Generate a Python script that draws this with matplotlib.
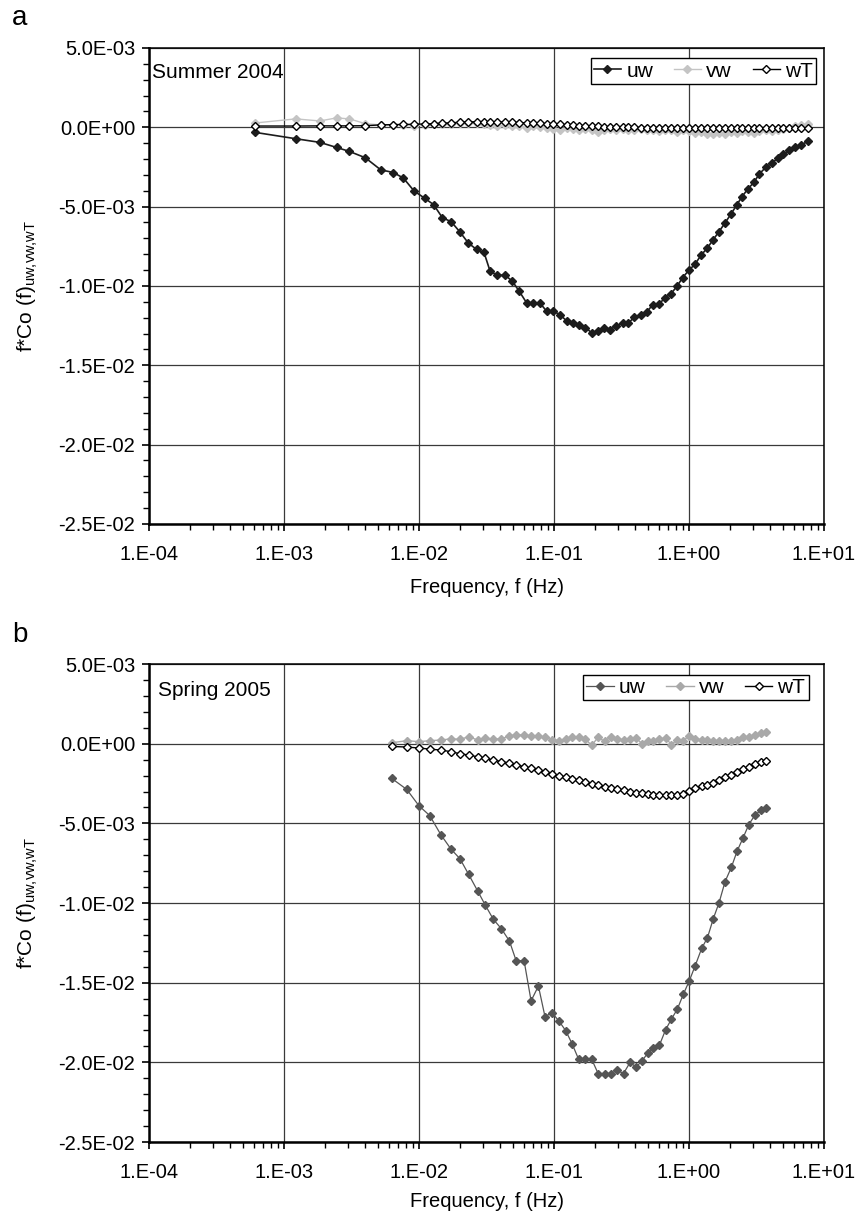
""" Cospectra f*Co(f) of uw, vw and wT for two campaigns
    (a: Summer 2004, b: Spring 2005).
"""

###########
# Imports #
###########
import numpy as np

import matplotlib
matplotlib.use('Agg')
import matplotlib.pyplot as plt
from matplotlib import rcParams
from matplotlib.ticker import FuncFormatter, LogLocator, NullFormatter, MultipleLocator

rcParams['font.family'] = ['Liberation Sans', 'DejaVu Sans']
rcParams['mathtext.default'] = 'regular'

########
# Data #
########
# Panel a (Summer 2004): frequency in Hz, cospectra in units of 1E-03
freq_a = [6.10e-4, 1.22e-3, 1.84e-3, 2.45e-3, 3.05e-3, 4.00e-3, 5.20e-3, 6.45e-3, 7.66e-3, 9.18e-3,
          1.10e-2, 1.28e-2, 1.49e-2, 1.73e-2, 2.01e-2, 2.32e-2, 2.67e-2, 3.03e-2, 3.36e-2, 3.80e-2,
          4.34e-2, 4.91e-2, 5.53e-2, 6.28e-2, 7.03e-2, 7.87e-2, 8.83e-2, 9.89e-2, 0.111, 0.124,
          0.138, 0.154, 0.171, 0.190, 0.211, 0.234, 0.260, 0.288, 0.323, 0.355,
          0.394, 0.438, 0.486, 0.538, 0.600, 0.664, 0.736, 0.815, 0.897, 1.00,
          1.107, 1.227, 1.36, 1.505, 1.66, 1.84, 2.04, 2.26, 2.45, 2.72,
          3.03, 3.32, 3.70, 4.10, 4.54, 5.00, 5.53, 6.12, 6.76, 7.65]

uw_a = [-0.32, -0.72, -0.95, -1.27, -1.52, -1.92, -2.68, -2.85, -3.20, -4.01,
        -4.47, -4.87, -5.70, -5.95, -6.60, -7.30, -7.70, -7.89, -9.07, -9.32,
        -9.32, -9.70, -10.34, -11.08, -11.08, -11.08, -11.60, -11.60, -11.81, -12.21,
        -12.34, -12.49, -12.63, -12.95, -12.87, -12.63, -12.76, -12.51, -12.34, -12.34,
        -11.96, -11.81, -11.65, -11.18, -11.12, -10.76, -10.48, -10.02, -9.47, -9.00,
        -8.63, -8.06, -7.63, -7.10, -6.60, -6.05, -5.48, -4.89, -4.41, -3.90,
        -3.46, -2.93, -2.53, -2.25, -1.96, -1.68, -1.46, -1.24, -1.09, -0.89]

vw_a = [0.27, 0.53, 0.40, 0.59, 0.53, 0.23, 0.15, 0.12, 0.14, 0.10,
        0.15, 0.18, 0.20, 0.22, 0.25, 0.26, 0.24, 0.20, 0.15, 0.10,
        0.12, 0.05, 0.08, -0.05, 0.05, 0.00, -0.05, -0.10, -0.15, -0.05,
        -0.10, -0.20, -0.10, -0.15, -0.30, -0.20, -0.10, -0.15, -0.10, -0.20,
        -0.15, -0.10, -0.20, -0.15, -0.25, -0.20, -0.15, -0.30, -0.20, -0.25,
        -0.35, -0.30, -0.45, -0.40, -0.35, -0.40, -0.30, -0.35, -0.25, -0.30,
        -0.35, -0.25, -0.20, -0.25, -0.15, -0.10, -0.05, 0.05, 0.15, 0.20]

wT_a = [0.08, 0.08, 0.09, 0.09, 0.09, 0.10, 0.15, 0.17, 0.18, 0.19,
        0.21, 0.23, 0.26, 0.28, 0.32, 0.34, 0.35, 0.36, 0.35, 0.34,
        0.33, 0.31, 0.30, 0.28, 0.26, 0.25, 0.22, 0.20, 0.18, 0.15,
        0.13, 0.11, 0.09, 0.07, 0.05, 0.04, 0.03, 0.02, 0.01, 0.00,
        -0.01, -0.02, -0.02, -0.03, -0.03, -0.04, -0.04, -0.05, -0.05, -0.05,
        -0.05, -0.05, -0.05, -0.05, -0.05, -0.05, -0.05, -0.05, -0.05, -0.05,
        -0.05, -0.05, -0.04, -0.04, -0.04, -0.04, -0.03, -0.03, -0.03, -0.03]

# Panel b (Spring 2005)
freq_b = [6.28e-3, 8.11e-3, 1.00e-2, 1.20e-2, 1.45e-2, 1.73e-2, 2.01e-2, 2.33e-2, 2.72e-2, 3.10e-2,
          3.55e-2, 4.07e-2, 4.67e-2, 5.24e-2, 6.00e-2, 6.76e-2, 7.66e-2, 8.57e-2, 9.66e-2, 0.109,
          0.122, 0.136, 0.152, 0.170, 0.190, 0.212, 0.237, 0.264, 0.293, 0.327,
          0.366, 0.405, 0.449, 0.497, 0.544, 0.603, 0.671, 0.740, 0.819, 0.908,
          1.005, 1.11, 1.24, 1.37, 1.51, 1.67, 1.85, 2.06, 2.27, 2.51,
          2.77, 3.07, 3.40, 3.72]

uw_b = [-2.18, -2.87, -3.90, -4.51, -5.71, -6.63, -7.22, -8.20, -9.25, -10.14,
        -11.02, -11.61, -12.38, -13.62, -13.62, -16.14, -15.21, -17.13, -16.88, -17.42,
        -18.01, -18.83, -19.80, -19.80, -19.80, -20.70, -20.70, -20.70, -20.50, -20.70,
        -20.00, -20.30, -19.90, -19.40, -19.12, -18.93, -17.95, -17.29, -16.66, -15.72,
        -14.88, -13.94, -12.85, -12.17, -11.00, -9.97, -8.65, -7.75, -6.74, -5.92,
        -5.08, -4.49, -4.18, -4.05]

vw_b = [0.06, 0.19, 0.13, 0.19, 0.23, 0.31, 0.27, 0.44, 0.23, 0.34,
        0.30, 0.30, 0.50, 0.55, 0.55, 0.50, 0.50, 0.40, 0.25, 0.20,
        0.30, 0.40, 0.45, 0.30, -0.10, 0.40, 0.15, 0.45, 0.30, 0.25,
        0.30, 0.35, 0.00, 0.20, 0.20, 0.30, 0.35, -0.05, 0.25, 0.20,
        0.50, 0.30, 0.25, 0.25, 0.20, 0.20, 0.20, 0.15, 0.25, 0.40,
        0.45, 0.55, 0.65, 0.72]

wT_b = [-0.17, -0.21, -0.27, -0.34, -0.40, -0.50, -0.63, -0.71, -0.82, -0.92,
        -1.02, -1.12, -1.22, -1.32, -1.45, -1.55, -1.68, -1.78, -1.92, -2.00,
        -2.10, -2.20, -2.30, -2.40, -2.50, -2.60, -2.70, -2.78, -2.85, -2.93,
        -3.00, -3.08, -3.12, -3.18, -3.22, -3.25, -3.25, -3.24, -3.22, -3.18,
        -2.95, -2.80, -2.68, -2.58, -2.45, -2.30, -2.12, -1.95, -1.78, -1.60,
        -1.45, -1.30, -1.15, -1.08]

series_names = ['uw', 'vw', 'wT']
y_ticks = [5e-3, 0.0, -5e-3, -1e-2, -1.5e-2, -2e-2, -2.5e-2]
scale = 1e-3


######################
# Plotting Functions #
######################
def _y_fmt(v, pos):
    if abs(v) < 1e-12:
        v = 0.0
    return f"{v:.1E}"


def _x_fmt(v, pos):
    return f"1.E{int(round(np.log10(v))):+03d}"


def _format_axis(ax):
    """ Excel-like axis: log x, gridlines, outward ticks. """
    ax.set_xscale('log')
    ax.set_xlim(1e-4, 1e1)
    ax.set_ylim(-2.5e-2, 5e-3)
    ax.set_yticks(y_ticks)
    ax.yaxis.set_major_formatter(FuncFormatter(_y_fmt))
    ax.yaxis.set_minor_locator(MultipleLocator(1e-3))
    ax.xaxis.set_major_locator(LogLocator(base=10, numticks=10))
    ax.xaxis.set_major_formatter(FuncFormatter(_x_fmt))
    ax.xaxis.set_minor_locator(LogLocator(base=10, subs=range(2, 10), numticks=20))
    ax.xaxis.set_minor_formatter(NullFormatter())

    ax.grid(True, which='major', color='#3a3a3a', linewidth=0.9)
    ax.set_axisbelow(True)

    ax.tick_params(axis='both', which='both', direction='out', labelsize=14.5,
                   colors='black', top=False, right=False)
    ax.tick_params(axis='both', which='major', length=5, width=1.2)
    ax.tick_params(axis='both', which='minor', length=4, width=1.0)
    ax.tick_params(axis='x', which='major', pad=10)
    ax.tick_params(axis='y', which='major', pad=5)

    for side in ['top', 'right']:
        ax.spines[side].set_linewidth(1.1)
    for side in ['left', 'bottom']:
        ax.spines[side].set_linewidth(1.8)

    ax.set_ylabel(r"f*Co (f)$_{uw{,}vw{,}wT}$", fontsize=15)
    ax.yaxis.set_label_coords(-0.162, 0.5)


def plot_panel(ax, freqs, uw, vw, wT, uw_color, vw_color, uw_lw, season, season_xy,
               legend_anchor, xlabel_y):
    _format_axis(ax)

    ax.plot(freqs, np.array(uw) * scale, color=uw_color, linewidth=uw_lw,
            marker='D', markersize=4.4, markerfacecolor=uw_color,
            markeredgecolor=uw_color, label=series_names[0])
    ax.plot(freqs, np.array(vw) * scale, color=vw_color, linewidth=1.0,
            marker='D', markersize=4.2, markerfacecolor=vw_color,
            markeredgecolor=vw_color, label=series_names[1])
    ax.plot(freqs, np.array(wT) * scale, color='black', linewidth=1.0,
            marker='D', markersize=3.8, markerfacecolor='white',
            markeredgecolor='black', markeredgewidth=1.0, label=series_names[2])

    ax.text(season_xy[0], season_xy[1], season, transform=ax.transAxes,
            fontsize=15, ha='left', va='top')

    leg = ax.legend(loc='upper right', bbox_to_anchor=legend_anchor, ncol=3,
                    fontsize=15, frameon=True, fancybox=False, framealpha=1,
                    edgecolor='black', borderpad=0.15, handlelength=1.3,
                    handletextpad=0.25, columnspacing=1.0, borderaxespad=0)
    leg.get_frame().set_linewidth(1.0)

    ax.set_xlabel("Frequency, f (Hz)", fontsize=14.5)
    ax.xaxis.set_label_coords(0.5, xlabel_y)


def main():
    fig = plt.figure(figsize=(8.59, 12.14), dpi=100)
    ax_a = fig.add_axes([0.1735, 0.5684, 0.7858, 0.3921])
    ax_b = fig.add_axes([0.1735, 0.0593, 0.7858, 0.3937])

    plot_panel(ax_a, freq_a, uw_a, vw_a, wT_a, uw_color='#1c1c1c', vw_color='#c4c4c4',
               uw_lw=1.2, season="Summer 2004", season_xy=(0.004, 0.968),
               legend_anchor=(0.988, 0.978), xlabel_y=-0.113)
    plot_panel(ax_b, freq_b, uw_b, vw_b, wT_b, uw_color='#555555', vw_color='#a9a9a9',
               uw_lw=0.9, season="Spring 2005", season_xy=(0.014, 0.964),
               legend_anchor=(0.977, 0.977), xlabel_y=-0.105)

    fig.text(12 / 859, 1 - 5 / 1214, "a", fontsize=20, ha='left', va='top')
    fig.text(12 / 859, 1 - 622 / 1214, "b", fontsize=20, ha='left', va='top')

    fig.savefig('out.png', dpi=100)


if __name__ == '__main__':
    main()
